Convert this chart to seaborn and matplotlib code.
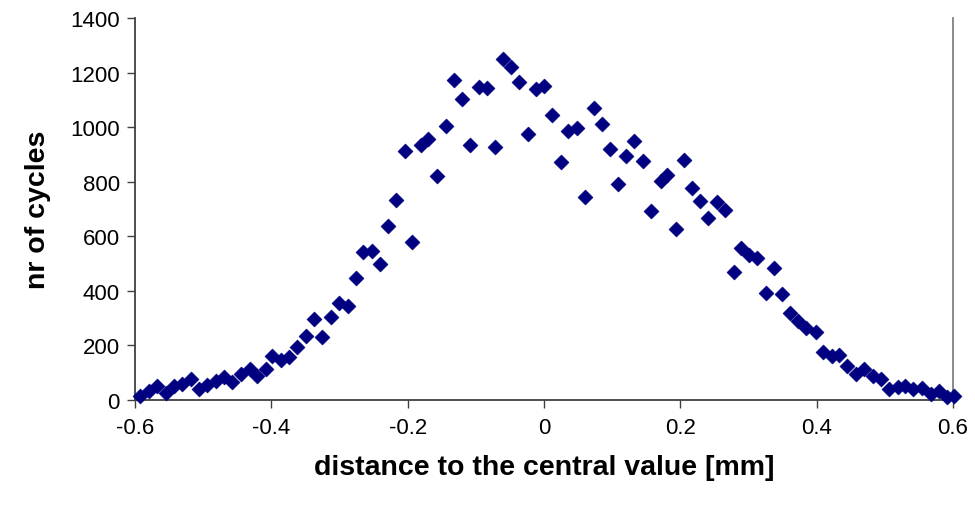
import pandas as pd
import seaborn as sns
import matplotlib
matplotlib.use("Agg")
import matplotlib.pyplot as plt

# values
distance = [-0.592, -0.579, -0.568, -0.555, -0.543, -0.531, -0.518, -0.506, -0.494, -0.481,
            -0.469, -0.457, -0.445, -0.432, -0.421, -0.408, -0.399, -0.386, -0.374, -0.362,
            -0.349, -0.337, -0.325, -0.312, -0.301, -0.288, -0.276, -0.265, -0.252, -0.241,
            -0.229, -0.217, -0.204, -0.193, -0.181, -0.170, -0.157, -0.144, -0.132, -0.120,
            -0.108, -0.096, -0.084, -0.072, -0.060, -0.048, -0.036, -0.024, -0.012, 0.000,
            0.012, 0.025, 0.035, 0.048, 0.060, 0.073, 0.085, 0.097, 0.108, 0.121,
            0.132, 0.145, 0.157, 0.171, 0.181, 0.193, 0.205, 0.217, 0.229, 0.240,
            0.254, 0.266, 0.278, 0.289, 0.300, 0.313, 0.325, 0.337, 0.349, 0.361,
            0.373, 0.385, 0.399, 0.409, 0.422, 0.433, 0.445, 0.457, 0.470, 0.482,
            0.494, 0.506, 0.519, 0.529, 0.542, 0.554, 0.567, 0.579, 0.591, 0.602]
cycles = [16, 34, 51, 25, 52, 58, 77, 40, 55, 71,
          84, 66, 95, 114, 89, 114, 162, 147, 157, 194,
          234, 297, 231, 306, 354, 345, 446, 543, 545, 497,
          636, 734, 914, 580, 936, 956, 822, 1004, 1174, 1103,
          933, 1148, 1142, 926, 1251, 1222, 1164, 975, 1141, 1150,
          1046, 874, 985, 996, 743, 1069, 1012, 920, 791, 895,
          948, 875, 694, 804, 826, 627, 881, 776, 729, 668,
          725, 697, 469, 557, 531, 520, 391, 483, 388, 320,
          288, 263, 249, 177, 163, 165, 126, 95, 114, 89,
          77, 40, 46, 52, 40, 43, 22, 34, 10, 16]

x_ticks = [-0.6, -0.4, -0.2, 0, 0.2, 0.4, 0.6]
x_tick_labels = ["-0.6", "-0.4", "-0.2", "0", "0.2", "0.4", "0.6"]
y_ticks = [0, 200, 400, 600, 800, 1000, 1200, 1400]

df = pd.DataFrame({"distance": distance, "cycles": cycles})

sns.set_style("ticks")
plt.rcParams["font.family"] = ["Liberation Sans", "DejaVu Sans"]
plt.rcParams["axes.unicode_minus"] = False

fig = plt.figure(figsize=(9.75, 5.1), dpi=100)
ax = fig.add_axes([135 / 975, 1 - 401 / 510, (953 - 135) / 975, (401 - 19) / 510])

sns.scatterplot(data=df, x="distance", y="cycles", marker="D", s=60,
                color="#000080", edgecolor="#000080", linewidth=0.3, ax=ax,
                clip_on=False, zorder=3)

ax.set_xlim(-0.6, 0.6)
ax.set_ylim(0, 1400)
ax.set_xticks(x_ticks)
ax.set_xticklabels(x_tick_labels)
ax.set_yticks(y_ticks)
ax.tick_params(axis="both", labelsize=16, length=6, width=1, color="#404040",
               labelcolor="black", pad=5)
ax.tick_params(axis="x", pad=6)

ax.spines["top"].set_visible(False)
for side in ["left", "bottom"]:
    ax.spines[side].set_color("#404040")
    ax.spines[side].set_linewidth(1.3)
ax.spines["right"].set_color("#808080")
ax.spines["right"].set_linewidth(1.3)

ax.set_xlabel("distance to the central value [mm]", fontsize=20.5,
              fontweight="bold", color="black", labelpad=12)
ax.set_ylabel("nr of cycles", fontsize=20.5, fontweight="bold", color="black",
              labelpad=14)

fig.savefig("out.png", dpi=100)
